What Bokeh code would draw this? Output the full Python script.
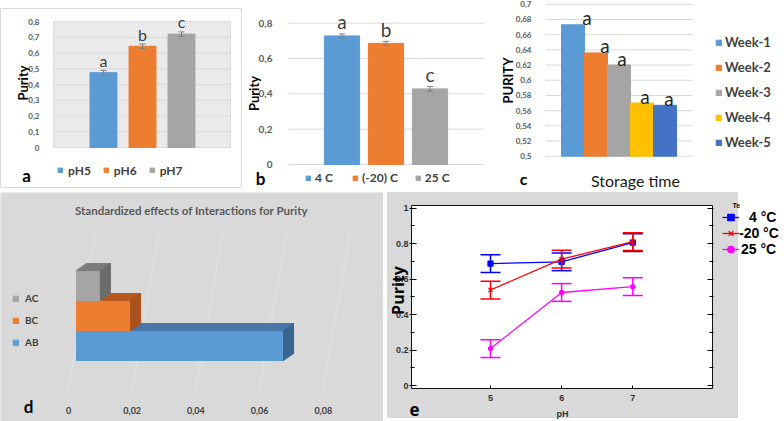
import math
from bokeh.plotting import figure
from bokeh.models import (Range1d, FixedTicker, CustomJSTickFormatter, Whisker, ColumnDataSource,
                          Legend, LegendItem, Label, LinearAxis, Spacer, TeeHead)
from bokeh.layouts import row, column
from bokeh.core.properties import value
from bokeh.embed import file_html
from bokeh.resources import INLINE

# ---------------- data ----------------
ph_labels = ["pH5", "pH6", "pH7"]
ph_purity = [0.475, 0.643, 0.720]
ph_error = [0.014, 0.014, 0.014]
ph_letters = ["a", "b", "c"]
ph_ticks = [0, 0.1, 0.2, 0.3, 0.4, 0.5, 0.6, 0.7, 0.8]

temp_labels = ["4 C", "(-20) C", "25 C"]
temp_purity = [0.728, 0.686, 0.428]
temp_error = [0.011, 0.011, 0.013]
temp_letters = ["a", "b", "c"]
temp_ticks = [0, 0.2, 0.4, 0.6, 0.8]

week_labels = ["Week-1", "Week-2", "Week-3", "Week-4", "Week-5"]
week_purity = [0.673, 0.636, 0.620, 0.570, 0.567]
week_letters = ["a", "a", "a", "a", "a"]
week_ticks = [0.5, 0.52, 0.54, 0.56, 0.58, 0.6, 0.62, 0.64, 0.66, 0.68, 0.7]

inter_labels = ["AB", "BC", "AC"]
inter_effects = [0.065, 0.017, 0.0075]
inter_ticks = [0, 0.02, 0.04, 0.06, 0.08]
inter_title = "Standardized effects of Interactions for Purity"

e_ph = [5, 6, 7]
e_temps = ["4 °C", "-20 °C", "25 °C"]
e_purity_4 = [0.687, 0.697, 0.805]
e_purity_m20 = [0.538, 0.712, 0.810]
e_purity_25 = [0.208, 0.524, 0.557]
e_half_4 = [0.05, 0.05, 0.05]
e_half_m20 = [0.05, 0.05, 0.05]
e_half_25 = [0.05, 0.05, 0.05]
e_yticks = [0, 0.2, 0.4, 0.6, 0.8, 1.0]
e_yminor = [0.1, 0.3, 0.5, 0.7, 0.9]

# ---------------- styles / helpers ----------------
C_BLUE, C_ORANGE, C_GRAY, C_YELLOW, C_DBLUE = "#5b9bd5", "#ed7d31", "#a5a5a5", "#ffc000", "#4472c4"
XL_FONT = "Lato"
E_FONT = "Liberation Sans"
week_letter_dx = [14, 9, 3, 3, 4]          # label nudges (style only)


class Cal:
    """linear pixel calibration of one axis (layout only)"""
    def __init__(self, va, pa, vb, pb):
        self.k = (pb - pa) / (vb - va)
        self.va, self.pa = va, pa

    def val(self, px):
        return self.va + (px - self.pa) / self.k

    def rng(self, p0, p1):
        return Range1d(self.val(p0), self.val(p1))


def panel(x0, y0, w, h, cx, cy):
    p = figure(width=w, height=h, x_range=cx.rng(x0, x0 + w), y_range=cy.rng(y0 + h, y0),
               output_backend="svg", toolbar_location=None, title=None,
               min_border_left=0, min_border_right=0, min_border_top=0, min_border_bottom=0)
    p.outline_line_color = None
    p.grid.visible = False
    return p


def num_fmt(sep):
    return CustomJSTickFormatter(args=dict(sep=sep), code="""
        const v = Math.round(tick * 1000) / 1000;
        return v.toString().replace('.', sep);
    """)


def put(p, org, rx, ry, text, size, bold=True, color="#000000", font=XL_FONT,
        align="center", angle=0.0):
    p.add_layout(Label(x=rx - org[0], y=org[1] - ry, x_units="screen", y_units="screen", text=text,
                       text_font=font, text_font_size=f"{size}px",
                       text_font_style="bold" if bold else "normal",
                       text_color=color, text_align=align, text_baseline="middle", angle=angle))


def style_yaxis(ax, ticks, size, standoff, loc, color="#595959"):
    ax.ticker = FixedTicker(ticks=ticks)
    ax.formatter = num_fmt(",")
    ax.fixed_location = loc
    ax.axis_line_color = None
    ax.major_tick_line_color = None
    ax.minor_tick_line_color = None
    ax.major_label_standoff = standoff
    ax.major_label_text_font = XL_FONT
    ax.major_label_text_font_style = "bold"
    ax.major_label_text_font_size = f"{size}px"
    ax.major_label_text_color = color


def hgrid(p, ticks, x_left, x_right, color="#d9d9d9"):
    n = len(ticks)
    p.segment(x0=[x_left] * n, x1=[x_right] * n, y0=ticks, y1=ticks,
              line_color=color, line_width=1, level="underlay")


def bar_legend(renderer, labels, loc, gw, standoff, spacing, size, lh, orientation="horizontal"):
    return Legend(items=[LegendItem(label=l, renderers=[renderer], index=i) for i, l in enumerate(labels)],
                  location=loc, orientation=orientation, glyph_width=gw, glyph_height=gw,
                  label_standoff=standoff, spacing=spacing, padding=0, margin=0,
                  border_line_color=None, background_fill_alpha=0,
                  label_text_font=XL_FONT, label_text_font_style="bold",
                  label_text_font_size=f"{size}px", label_text_color="#404040", label_height=lh)


def whisk(src, color, head, width=1.0):
    return Whisker(source=src, base="x", upper="up", lower="lo", line_color=color, line_width=width,
                   level="annotation",
                   upper_head=TeeHead(size=head, line_color=color, line_width=width),
                   lower_head=TeeHead(size=head, line_color=color, line_width=width))


# ================= panel a  (canvas x 0..242, y 8..188) =================
A0 = (0, 8, 242, 180)
cax, cay = Cal(1, 103, 3, 181), Cal(0, 147, 0.8, 21)
pa = panel(*A0, cax, cay)
orgA = (A0[0], A0[1] + A0[3])
pa.outline_line_color = "#d9d9d9"
a_l, a_r = cax.val(53), cax.val(230)
pa.quad(left=[a_l], right=[a_r], bottom=[ph_ticks[0]], top=[ph_ticks[-1]], fill_color="#f4f4f4",
        hatch_pattern="/", hatch_color="#d2d2d2", hatch_scale=4, hatch_weight=0.6,
        line_color="#dcdcdc", level="image")
hgrid(pa, ph_ticks, a_l, a_r)
src_a = ColumnDataSource(dict(x=list(range(1, len(ph_labels) + 1)), top=ph_purity,
                              up=[v + e for v, e in zip(ph_purity, ph_error)],
                              lo=[v - e for v, e in zip(ph_purity, ph_error)],
                              color=[C_BLUE, C_ORANGE, C_GRAY], letter=ph_letters))
ra = pa.vbar(x="x", top="top", width=0.69, color="color", source=src_a)
pa.add_layout(whisk(src_a, "#7f7f7f", 6))
pa.text(x="x", y="up", text="letter", source=src_a, text_align="center", text_baseline="middle",
        y_offset=-10, text_font=value(XL_FONT), text_font_size="16px", text_color="#404040")
pa.xaxis.visible = False
style_yaxis(pa.yaxis[0], ph_ticks, 8, 8, a_l)
pa.add_layout(bar_legend(ra, ph_labels, (57 - orgA[0], orgA[1] - 178), 6, 5, 12, 12, 16))
put(pa, orgA, 22, 82.5, "Purity", 13, angle=math.pi / 2)
put(pa, orgA, 26, 174.5, "a", 17)

# ================= panel b  (canvas x 242..492, y 0..192) =================
B0 = (242, 0, 250, 192)
cbx, cby = Cal(1, 341.5, 3, 429.5), Cal(0, 164, 0.8, 22.7)
pb = panel(*B0, cbx, cby)
orgB = (B0[0], B0[1] + B0[3])
b_l, b_r = cbx.val(288), cbx.val(483)
hgrid(pb, temp_ticks, b_l, b_r)
src_b = ColumnDataSource(dict(x=list(range(1, len(temp_labels) + 1)), top=temp_purity,
                              up=[v + e for v, e in zip(temp_purity, temp_error)],
                              lo=[v - e for v, e in zip(temp_purity, temp_error)],
                              color=[C_BLUE, C_ORANGE, C_GRAY], letter=temp_letters))
rb = pb.vbar(x="x", top="top", width=0.8, color="color", source=src_b)
pb.add_layout(whisk(src_b, "#7f7f7f", 6))
pb.text(x="x", y="up", text="letter", source=src_b, text_align="center", text_baseline="middle",
        y_offset=-12, text_font=value(XL_FONT), text_font_size="19px", text_color="#404040")
pb.xaxis.visible = False
style_yaxis(pb.yaxis[0], temp_ticks, 10, 10, b_l)
pb.add_layout(bar_legend(rb, temp_labels, (305 - orgB[0], orgB[1] - 185.5), 6, 4, 17, 12, 16))
put(pb, orgB, 253, 93, "Purity", 13, angle=math.pi / 2)
put(pb, orgB, 260, 177.5, "b", 17)

# ================= panel c  (canvas x 492..784, y 0..192) =================
C0 = (492, 0, 292, 192)
ccx, ccy = Cal(1, 572.5, 5, 664.5), Cal(0.5, 155.7, 0.7, 3.8)
pc = panel(*C0, ccx, ccy)
orgC = (C0[0], C0[1] + C0[3])
c_l, c_r = ccx.val(545), ccx.val(692)
hgrid(pc, week_ticks, c_l, c_r)
src_c = ColumnDataSource(dict(x=list(range(1, len(week_labels) + 1)), top=week_purity,
                              color=[C_BLUE, C_ORANGE, C_GRAY, C_YELLOW, C_DBLUE], letter=week_letters,
                              dx=week_letter_dx))
rc = pc.vbar(x="x", top="top", bottom=week_ticks[0], width=1.0, color="color", source=src_c)
pc.text(x="x", y="top", text="letter", source=src_c, text_align="center", text_baseline="middle",
        x_offset="dx", y_offset=-7, text_font=value(XL_FONT), text_font_size="19px", text_color="#262626")
pc.xaxis.visible = False
style_yaxis(pc.yaxis[0], week_ticks, 8, 8, c_l)
pc.add_layout(bar_legend(rc, week_labels, (715 - orgC[0], orgC[1] - 152.5), 7, 3, 4, 13, 21,
                         orientation="vertical"))
put(pc, orgC, 507, 80, "PURITY", 13, angle=math.pi / 2)
put(pc, orgC, 635, 179.5, "Storage time", 16, bold=False, color="#1a1a1a")
put(pc, orgC, 523, 177.5, "c", 16)

# ================= panel d  (canvas x 0..383, y 192..421) =================
D0 = (0, 192, 383, 229)
cdx, cdy = Cal(0, 68, 0.02, 131.7), Cal(0, 345, 1, 315)
pd_ = panel(*D0, cdx, cdy)
orgD = (D0[0], D0[1] + D0[3])
D_BG = "#d9d9d9"
pd_.background_fill_color = D_BG
pd_.border_fill_color = D_BG
pd_.yaxis.visible = False
# faint 3-D wall gridlines
slant = 26.7 / cdx.k
y_floor, y_wall = cdy.val(388), cdy.val(233)
pd_.segment(x0=inter_ticks, y0=[y_floor] * len(inter_ticks),
            x1=[t + slant for t in inter_ticks], y1=[y_wall] * len(inter_ticks),
            line_color="#e4e4e4", line_width=1, level="underlay")
shift, ddx, ddy = 8 / cdx.k, 10 / cdx.k, -7 / cdy.k
face_cols = [(C_BLUE, "#4677a8", "#3b6591"), (C_ORANGE, "#b8581f", "#a9521c"), (C_GRAY, "#7c7c7c", "#6c6c6c")]
d_front = {}
for i, (lab, val) in enumerate(zip(inter_labels, inter_effects)):
    fc, tc, sc = face_cols[i]
    lft, rgt, bot, top = shift, val + shift, i - 0.5, i + 0.5
    d_front[lab] = pd_.quad(left=[lft], right=[rgt], bottom=[bot], top=[top], color=fc)
    pd_.patch(x=[lft, lft + ddx, rgt + ddx, rgt], y=[top, top + ddy, top + ddy, top], color=tc)
    pd_.patch(x=[rgt, rgt + ddx, rgt + ddx, rgt], y=[bot, bot + ddy, top + ddy, top], color=sc)
xd = pd_.xaxis[0]
xd.ticker = FixedTicker(ticks=inter_ticks)
xd.formatter = num_fmt(",")
xd.fixed_location = cdy.val(395)
xd.axis_line_color = None
xd.major_tick_line_color = None
xd.minor_tick_line_color = None
xd.major_label_standoff = 5
xd.major_label_text_font = XL_FONT
xd.major_label_text_font_style = "bold"
xd.major_label_text_font_size = "9px"
xd.major_label_text_color = "#404040"
pd_.add_layout(Legend(items=[LegendItem(label=l, renderers=[d_front[l]]) for l in reversed(inter_labels)],
                      location=(12 - orgD[0], orgD[1] - 349), orientation="vertical",
                      glyph_width=7, glyph_height=7, label_standoff=6, spacing=8, padding=0, margin=0,
                      border_line_color=None, background_fill_alpha=0, label_text_font=XL_FONT,
                      label_text_font_style="bold", label_text_font_size="10px",
                      label_text_color="#404040", label_height=14))
put(pd_, orgD, 191, 209.5, inter_title, 11.5, color="#595959")
put(pd_, orgD, 28, 406, "d", 17)

# ================= panel e  (canvas x 387..784, y 192..421) =================
E0 = (387, 192, 397, 229)
cex, cey = Cal(5, 490, 7, 632.3), Cal(0, 385, 1, 207.5)
pe = panel(*E0, cex, cey)
orgE = (E0[0], E0[1] + E0[3])
pe.background_fill_alpha = 0
pe.border_fill_alpha = 0
pe.styles = {"background": "linear-gradient(to right, #d9d9d9 351px, #ffffff 351px) no-repeat",
             "background-size": "100% 226px"}
e_l, e_r, e_b, e_t = cex.val(411), cex.val(712), cey.val(388), cey.val(205)
pe.quad(left=[e_l], right=[e_r], bottom=[e_b], top=[e_t], fill_color="#ffffff",
        line_color="#111111", line_width=1, level="image")

ye = pe.yaxis[0]
ye.ticker = FixedTicker(ticks=e_yticks, minor_ticks=e_yminor)
ye.formatter = num_fmt(".")
ye.fixed_location = e_l
ye.axis_line_color = None
ye.major_tick_in, ye.major_tick_out, ye.minor_tick_in, ye.minor_tick_out = 5, 2, 3, 1
ye.major_label_standoff = 1
ye.major_label_text_font = E_FONT
ye.major_label_text_font_style = "bold"
ye.major_label_text_font_size = "9px"
ye.major_label_text_color = "#333333"
yr = LinearAxis(ticker=FixedTicker(ticks=e_yticks, minor_ticks=e_yminor), fixed_location=e_r,
                axis_line_color=None, major_label_text_color=None, major_label_text_font_size="1px",
                major_label_standoff=0,
                major_tick_in=5, major_tick_out=1, minor_tick_in=3, minor_tick_out=1)
pe.add_layout(yr, "right")
xe = pe.xaxis[0]
xe.ticker = FixedTicker(ticks=e_ph)
xe.fixed_location = e_b
xe.axis_line_color = None
xe.major_tick_in, xe.major_tick_out = 3, 0
xe.minor_tick_line_color = None
xe.major_label_standoff = 6
xe.major_label_text_font = E_FONT
xe.major_label_text_font_style = "bold"
xe.major_label_text_font_size = "9px"
xe.major_label_text_color = "#333333"

e_series = [(e_purity_4, e_half_4, "#0000ff", "square", 5),
            (e_purity_m20, e_half_m20, "#ff0000", "x", 6),
            (e_purity_25, e_half_25, "#ff00ff", "circle", 4)]
e_leg_rows = [(214, 10), (230, 0), (246, 2)]      # legend row centre y, text standoff (layout)
for name, (vals, half, col, mk, sz), (yc, stand) in zip(e_temps, e_series, e_leg_rows):
    src = ColumnDataSource(dict(x=e_ph, y=vals, up=[v + h for v, h in zip(vals, half)],
                                lo=[v - h for v, h in zip(vals, half)]))
    ln = pe.line("x", "y", source=src, line_color=col, line_width=1.3)
    mkr = pe.scatter("x", "y", source=src, marker=mk, size=sz, color=col, line_width=1.3)
    pe.add_layout(whisk(src, col, 20, 1.5))
    pe.add_layout(Legend(items=[LegendItem(label=name, renderers=[ln, mkr])],
                         location=(722 - orgE[0], orgE[1] - (yc + 10.5)), orientation="vertical",
                         glyph_width=17, glyph_height=16, label_height=16, spacing=0,
                         label_standoff=stand, label_text_font=E_FONT, label_text_font_style="bold",
                         label_text_font_size="14px", label_text_color="#000000",
                         padding=0, margin=0, border_line_color=None, background_fill_alpha=0))
put(pe, orgE, 732, 204.5, "Te", 7, font=E_FONT, align="left")
put(pe, orgE, 397, 290, "Purity", 16, font="Open Sans", angle=math.pi / 2)
put(pe, orgE, 562, 413, "pH", 9, font=E_FONT, color="#333333")
put(pe, orgE, 414, 409, "e", 17, font="Open Sans")

layout = column(row(column(Spacer(width=242, height=8), pa), pb, pc),
                row(pd_, Spacer(width=4, height=229), pe))
open("out.html", "w").write(file_html(layout, INLINE))
